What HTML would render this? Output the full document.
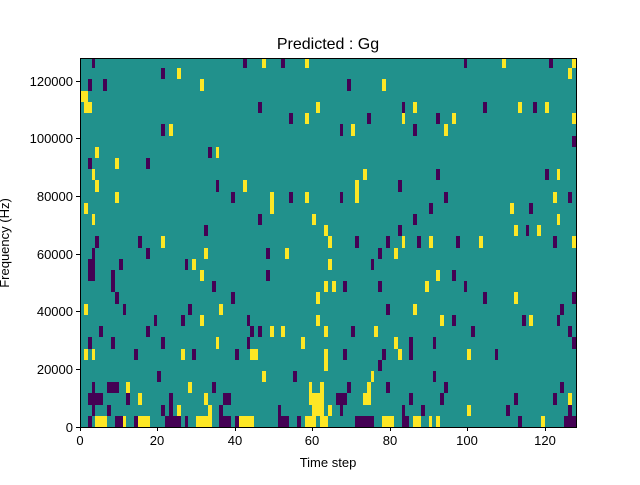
<!DOCTYPE html>
<html><head><meta charset="utf-8"><style>
body{margin:0;background:#fff;}
svg text{font-family:"Liberation Sans",sans-serif;font-size:13px;fill:#000;}
</style></head><body>
<svg id="s" width="640" height="480" xmlns="http://www.w3.org/2000/svg">
<rect width="640" height="480" fill="#fff"/>
<rect x="80" y="58" width="496" height="369" fill="#21918c"/>
<g id="cells"></g>
<g stroke="#000" stroke-width="1" fill="none">
<rect x="80.5" y="58.5" width="496" height="369"/>
<path d="M80.5 427v4M157.5 427v4M235.5 427v4M312.5 427v4M390.5 427v4M467.5 427v4M545.5 427v4"/>
<path d="M80 427.5h-4M80 369.5h-4M80 311.5h-4M80 254.5h-4M80 196.5h-4M80 138.5h-4M80 81.5h-4"/>
</g>
<g text-anchor="middle">
<text x="80" y="445">0</text><text x="157" y="445">20</text><text x="235" y="445">40</text>
<text x="312" y="445">60</text><text x="390" y="445">80</text><text x="467" y="445">100</text><text x="545" y="445">120</text>
<text x="328" y="467">Time step</text>
<text x="328" y="49" style="font-size:16px">Predicted : Gg</text>
</g>
<g text-anchor="end">
<text x="73" y="432">0</text><text x="73" y="374">20000</text><text x="73" y="316">40000</text>
<text x="73" y="259">60000</text><text x="73" y="201">80000</text><text x="73" y="143">100000</text><text x="73" y="86">120000</text>
</g>
<text transform="translate(9,243) rotate(-90)" text-anchor="middle">Frequency (Hz)</text>
</svg>
<script>
var Q=[
[80,58,`P 36,0,9,30;P 489,0,12,30;Y 546,0,12,30;P 603,0,12,30;Y 675,0,12,30;P 243,30,12,33;Y 291,30,12,33;P 24,63,12,36;P 69,63,12,36;Y 360,63,12,36;Y 3,99,21,33;Y 12,132,24,33;P 534,132,12,33;Y 708,132,12,33;P 627,165,12,33;Y 675,165,12,33;P 243,198,12,36;Y 267,198,12,36;Y 45,267,12,33;P 384,267,12,33;Y 408,267,9,33;P 24,300,12,33;Y 105,300,12,33;P 198,300,12,33;Y 36,333,9,33;Y 45,366,12,36;P 408,366,9,36;Y 489,366,12,36;Y 105,402,12,33;P 453,402,12,33;Y 570,402,12,66;P 627,402,12,33;Y 675,402,12,33;Y 12,435,12,33;Y 36,468,9,33;P 534,468,12,33;Y 696,468,12,33;P 372,501,12,33;Y 732,501,12,33`],
[328,58,`P 408,0,9,30;Y 522,0,12,30;P 663,0,12,30;Y 732,0,12,30;Y 720,30,12,33;P 57,63,12,36;Y 162,63,12,36;P 222,132,9,33;Y 255,132,12,33;P 465,132,12,33;Y 570,132,12,33;P 615,132,12,33;Y 651,132,12,33;P 117,165,12,33;Y 222,165,9,33;P 324,165,12,33;Y 372,165,12,33;Y 732,165,12,33;P 36,198,9,36;Y 69,198,12,36;P 255,198,12,36;Y 348,198,12,36;P 732,234,12,33;Y 105,333,12,33;P 324,333,12,33;P 651,333,12,33;Y 687,333,9,33;Y 81,366,12,69;P 210,366,12,36;P 36,402,9,33;P 348,402,12,33;Y 675,402,12,33;P 720,402,12,33;P 303,435,12,33;Y 546,435,12,33;P 603,435,12,33;P 255,468,12,33;Y 687,468,9,33;P 210,501,12,33;Y 558,501,12,33;P 594,501,9,33;Y 627,501,12,33`],
[80,242,`P 45,-18,12,36;P 174,-18,12,36;Y 243,-18,12,36;Y 744,-18,6,36;P 36,18,9,33;P 198,18,12,33;Y 372,18,12,33;P 558,18,12,33;Y 615,18,12,33;P 24,51,21,66;P 117,51,12,33;P 315,51,9,33;Y 336,51,12,33;Y 744,51,6,33;P 93,84,12,66;Y 360,84,12,33;P 558,84,12,33;P 396,117,12,33;Y 732,117,12,33;P 105,150,12,36;P 453,150,12,36;Y 708,150,12,36;Y 12,186,12,33;P 129,186,9,33;P 324,186,12,33;Y 417,186,12,33;P 222,219,9,33;P 303,219,12,33;Y 360,219,12,33;P 501,219,9,33;Y 708,219,12,33;P 57,252,12,33;P 198,252,12,33;P 510,252,12,33;P 534,252,12,33;Y 570,252,12,33;Y 603,252,12,33;Y 732,252,12,33;P 24,285,12,36;P 93,285,12,36;P 243,285,12,36;Y 408,285,9,36;P 501,285,9,36;Y 663,285,12,36;Y 12,321,12,33;Y 36,321,9,33;P 162,321,12,33;Y 303,321,12,33;P 336,321,12,33;P 465,321,12,33;Y 510,321,24,33;Y 732,321,12,66;P 231,387,12,33;Y 546,387,12,33;P 639,387,12,33;P 36,420,9,33;P 81,420,36,33;Y 138,420,12,33;Y 324,420,12,33;P 396,420,12,33;Y 687,420,9,33;Y 720,420,12,33;P 24,453,45,36;P 138,453,12,36;Y 174,453,12,36;P 267,453,12,36;Y 372,453,12,36;P 429,453,24,36;Y 687,453,45,36;P 36,489,9,33;P 81,489,12,33;P 243,489,12,33;P 267,489,12,33;Y 291,489,12,33;Y 384,489,12,33;P 417,489,12,33;P 594,489,9,33;Y 696,489,36,33;Y 744,489,6,33;P 24,522,12,33;Y 45,522,36,33;P 105,522,24,33;Y 129,522,9,33;P 162,522,12,33;Y 174,522,36,33;P 255,522,48,33;P 315,522,9,33;Y 348,522,48,33;P 417,522,36,33;P 465,522,12,33;Y 477,522,45,33;P 594,522,33,33;P 651,522,12,33;Y 675,522,33,33;Y 720,522,24,33`],
[328,242,`Y 0,-18,12,36;P 81,-18,12,36;P 174,-18,12,36;Y 222,-18,9,36;P 267,-18,12,36;Y 303,-18,12,36;P 384,-18,12,36;Y 453,-18,12,36;P 675,-18,12,36;Y 732,-18,12,36;P 150,18,12,33;Y 198,18,12,33;Y 0,51,12,33;P 129,51,9,33;Y 324,84,12,33;P 372,84,12,33;Y 12,117,12,33;P 45,117,12,33;P 150,117,12,33;Y 291,117,12,33;P 408,117,9,33;P 465,150,12,36;Y 558,150,12,36;P 732,150,12,36;P 174,186,12,33;Y 255,186,12,33;P 696,186,12,33;Y 336,219,12,33;P 372,219,12,33;P 582,219,12,33;Y 603,219,12,33;P 687,219,9,33;P 69,252,12,33;Y 138,252,12,33;P 429,252,12,33;P 720,252,12,33;Y 198,285,12,36;P 243,285,12,69;P 315,285,9,36;P 732,285,12,36;P 45,321,12,33;P 162,321,12,33;Y 210,321,12,33;Y 417,321,12,33;P 501,321,9,33;P 150,354,12,33;Y 129,387,9,33;P 315,387,9,33;P 57,420,12,33;Y 117,420,12,33;P 174,420,12,33;P 348,420,12,33;P 696,420,12,33;P 24,453,33,36;Y 105,453,24,36;P 243,453,12,36;P 336,453,12,36;P 558,453,12,36;P 675,453,12,36;Y 720,453,12,36;Y 0,489,12,33;P 36,489,9,33;P 222,489,9,33;P 279,489,12,33;Y 417,489,12,33;P 534,489,12,33;P 720,489,12,33;P 81,522,57,33;Y 162,522,36,33;P 222,522,21,33;Y 255,522,24,33;Y 303,522,9,33;Y 324,522,12,33;P 570,522,12,33;Y 639,522,12,33;P 708,522,36,33`]];
var g=document.getElementById('cells'),h='';
Q.forEach(function(q){q[2].split(';').forEach(function(c){var t=c.split(' '),n=t[1].split(',').map(Number);
var x=q[0]+n[0]/3,y=q[1]+n[1]/3,w=n[2]/3,hh=n[3]/3;if(x+w>576)w=576-x;if(y+hh>427)hh=427-y;
h+='<rect x="'+x.toFixed(2)+'" y="'+y.toFixed(2)+'" width="'+w.toFixed(2)+'" height="'+hh.toFixed(2)+'" fill="'+(t[0]=='P'?'#440154':'#fde725')+'"/>';});});
g.innerHTML=h;
</script>
</body></html>
